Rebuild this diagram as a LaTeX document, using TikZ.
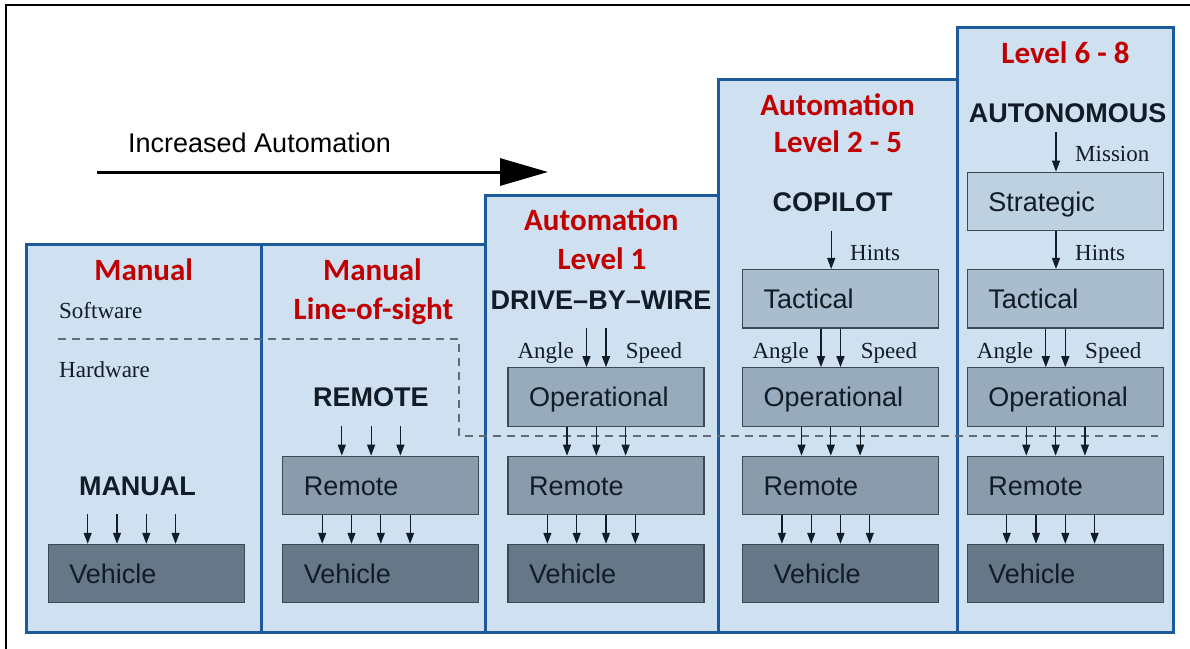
\documentclass[tikz,border=0pt]{standalone}
\usepackage{fontspec}
\setmainfont{Liberation Serif}
\newfontfamily\sansf{Liberation Sans}
\newfontfamily\calf{Carlito}
\usetikzlibrary{arrows.meta}

\definecolor{colfill}{HTML}{CFE0F1}
\definecolor{colblue}{HTML}{1D5A9C}
\definecolor{boxline}{HTML}{3E4853}
\definecolor{ink}{HTML}{111C27}
\definecolor{hdred}{HTML}{C00000}
\definecolor{dashgray}{HTML}{5F6B77}
\definecolor{fstrat}{HTML}{BED1E1}
\definecolor{ftact}{HTML}{AABDCE}
\definecolor{fop}{HTML}{98ABBC}
\definecolor{frem}{HTML}{8A9CAC}
\definecolor{fveh}{HTML}{667787}

\begin{document}
\begin{tikzpicture}[x=1pt,y=-1pt,
  colborder/.style={draw=colblue,line width=3pt},
  blk/.style={draw=boxline,line width=1.2pt,minimum height=58.5pt,
    text width=154pt,inner xsep=21pt,inner ysep=0pt,align=left,
    text height=19.5pt,text depth=0pt,
    font=\sansf\fontsize{27}{27}\selectfont,text=ink},
  strat/.style={blk,fill=fstrat},
  tact/.style={blk,fill=ftact},
  oper/.style={blk,fill=fop},
  remo/.style={blk,fill=frem},
  vehi/.style={blk,fill=fveh},
  hdr/.style={font=\calf\bfseries\fontsize{31}{31}\selectfont,text=hdred,inner sep=0pt,anchor=base},
  mode/.style={font=\sansf\bfseries\fontsize{27}{27}\selectfont,text=ink,inner sep=0pt,anchor=base},
  sig/.style={font=\fontsize{23}{23}\selectfont,text=ink,inner sep=0pt},
  arr/.style={draw=ink,line width=1.2pt,-{Triangle[length=11pt,width=8pt]}},
  bigarr/.style={draw=black,line width=3pt,-{Triangle[length=48pt,width=27pt]}},
  layer/.style={draw=dashgray,line width=1.4pt,dash pattern=on 8pt off 6pt}
]
\useasboundingbox (0,0) rectangle (1190,648);

% outer frame
\draw[line width=1.6pt] (6,660) -- (6,5) -- (1200,5);

% level columns
\fill[colfill] (26,244) rectangle (261,632);
\fill[colfill] (261,244) rectangle (485,632);
\fill[colfill] (485,195) rectangle (718,632);
\fill[colfill] (718,79) rectangle (957,632);
\fill[colfill] (957,27) rectangle (1173,632);
\draw[colborder] (26,244) rectangle (261,632);
\draw[colborder] (261,244) rectangle (485,632);
\draw[colborder] (485,195) rectangle (718,632);
\draw[colborder] (718,79) rectangle (957,632);
\draw[colborder] (957,27) rectangle (1173,632);

% software / hardware boundary
\draw[layer] (58,339) -- (459,339) -- (459,436) -- (1158,436);

% increased automation arrow
\coordinate (ia0) at (97,172);
\coordinate (ia1) at (548,172);
\draw[bigarr] (ia0) -- (ia1);
\node[font=\sansf\fontsize{27}{27}\selectfont,inner sep=0pt,anchor=base west] (iatxt) at (128,152) {Increased Automation};

% boxes
\node[vehi] (veh1) at (146.3,573.6) {Vehicle};

\node[remo] (rem2) at (380.8,485.5) {Remote};
\node[vehi] (veh2) at (380.8,573.6) {Vehicle};

\node[oper] (op3) at (606,397) {Operational};
\node[remo] (rem3) at (606,485.5) {Remote};
\node[vehi] (veh3) at (606,573.6) {Vehicle};

\node[tact] (tac4) at (840.5,298.8) {Tactical};
\node[oper] (op4) at (840.5,397) {Operational};
\node[remo] (rem4) at (840.5,485.5) {Remote};
\node[vehi] (veh4) at (840.5,573.6) {\hspace*{10pt}Vehicle};

\node[strat] (str5) at (1065.3,201.5) {Strategic};
\node[tact] (tac5) at (1065.3,298.8) {Tactical};
\node[oper] (op5) at (1065.3,397) {Operational};
\node[remo] (rem5) at (1065.3,485.5) {Remote};
\node[vehi] (veh5) at (1065.3,573.6) {Vehicle};

% headers
\node[hdr] (h1) at (143.7,280.7) {Manual};
\node[hdr] (h2a) at (372.5,280.7) {Manual};
\node[hdr] (h2b) at (373.5,319.3) {Line-of-sight};
\node[hdr] (h3a) at (601.3,230) {Automation};
\node[hdr] (h3b) at (602,269) {Level 1};
\node[hdr] (h4a) at (837.5,115) {Automation};
\node[hdr] (h4b) at (838,152.7) {Level 2 - 5};
\node[hdr] (h5) at (1065.5,63.3) {Level 6 - 8};

% operating modes
\node[mode] (m1) at (137.5,495) {MANUAL};
\node[mode] (m2) at (370.8,406.7) {REMOTE};
\node[mode] (m3) at (601,309.3) {DRIVE–BY–WIRE};
\node[mode] (m4) at (832.7,211.7) {COPILOT};
\node[mode] (m5) at (1067.5,122.7) {AUTONOMOUS};

% layer names
\node[sig,anchor=base west] (sw) at (59,318.3) {Software};
\node[sig,anchor=base west] (hw) at (59,377.3) {Hardware};

% manual: direct vehicle control
\foreach \d in {-58.6,-29.3,0,29.3}
  \draw[arr] ([xshift=\d pt,yshift=29.5pt]veh1.north) -- ([xshift=\d pt]veh1.north);

% remote input
\foreach \d in {-39,-9.7,19.6}
  \draw[arr] ([xshift=\d pt,yshift=30pt]rem2.north) -- ([xshift=\d pt]rem2.north);

% remote to vehicle
\foreach \c in {2,3,4,5}
  \foreach \d in {-58.6,-29.3,0,29.3}
    \draw[arr] ([xshift=\d pt]rem\c.south) -- ([xshift=\d pt]veh\c.north);

% operational to remote
\foreach \c in {3,4,5}
  \foreach \d in {-39,-9.7,19.6}
    \draw[arr] ([xshift=\d pt]op\c.south) -- ([xshift=\d pt]rem\c.north);

% angle / speed commands
\foreach \d in {-19.5,0}
  \draw[arr] ([xshift=\d pt,yshift=39pt]op3.north) -- ([xshift=\d pt]op3.north);
\foreach \c in {4,5}
  \foreach \d in {-19.5,0}
    \draw[arr] ([xshift=\d pt]tac\c.south) -- ([xshift=\d pt]op\c.north);
\node[sig,anchor=base east] (an3) at (574,358.3) {Angle};
\node[sig,anchor=base west] (sp3) at (625.7,358.3) {Speed};
\node[sig,anchor=base east] (an4) at (809,358.3) {Angle};
\node[sig,anchor=base west] (sp4) at (860.7,358.3) {Speed};
\node[sig,anchor=base east] (an5) at (1033.3,358.3) {Angle};
\node[sig,anchor=base west] (sp5) at (1085,358.3) {Speed};

% hints and mission
\draw[arr] ([xshift=-9.3pt,yshift=38.3pt]tac4.north) -- ([xshift=-9.3pt]tac4.north);
\node[sig,anchor=base west] (hi4) at (850,260) {Hints};
\draw[arr] ([xshift=-9.3pt]str5.south) -- ([xshift=-9.3pt]tac5.north);
\node[sig,anchor=base west] (hi5) at (1075,260) {Hints};
\draw[arr] ([xshift=-9.3pt,yshift=39.3pt]str5.north) -- ([xshift=-9.3pt]str5.north);
\node[sig,anchor=base west] (mi5) at (1075,161.7) {Mission};

\end{tikzpicture}
\end{document}
